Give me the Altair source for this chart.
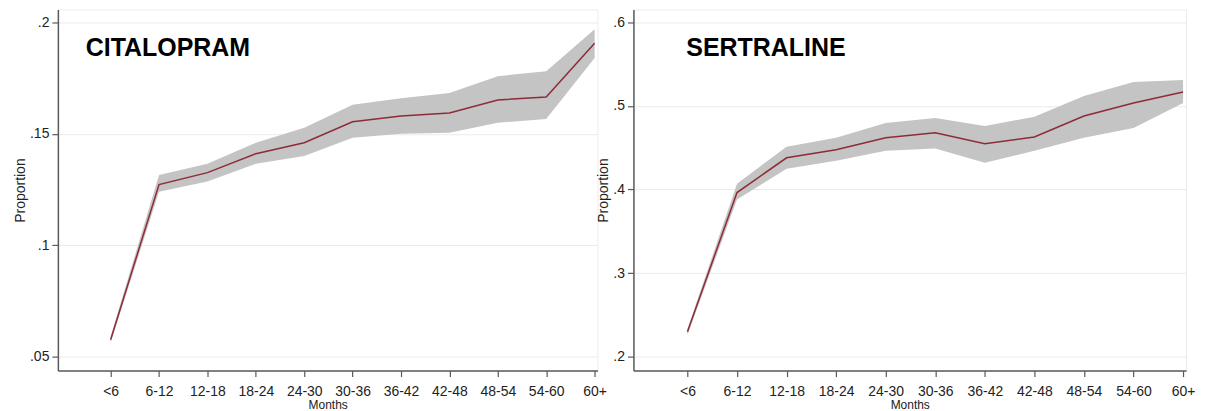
import altair as alt
import pandas as pd

months = ["<6", "6-12", "12-18", "18-24", "24-30", "30-36", "36-42", "42-48", "48-54", "54-60", "60+"]

cit_mean = [0.0576, 0.1272, 0.1326, 0.1411, 0.1460, 0.1554, 0.1580, 0.1594, 0.1652, 0.1665, 0.1906]
cit_lo = [0.0562, 0.1240, 0.1286, 0.1366, 0.1400, 0.1482, 0.1500, 0.1505, 0.1550, 0.1567, 0.1840]
cit_hi = [0.0590, 0.1315, 0.1366, 0.1460, 0.1527, 0.1630, 0.1660, 0.1683, 0.1759, 0.1781, 0.1969]

ser_mean = [0.2298, 0.3964, 0.4380, 0.4476, 0.4619, 0.4680, 0.4548, 0.4630, 0.4880, 0.5036, 0.5167]
ser_lo = [0.2260, 0.3880, 0.4250, 0.4345, 0.4464, 0.4490, 0.4320, 0.4464, 0.4620, 0.4738, 0.5036]
ser_hi = [0.2330, 0.4070, 0.4512, 0.4620, 0.4798, 0.4857, 0.4762, 0.4870, 0.5120, 0.5286, 0.5310]

cit_yticks = [0.05, 0.1, 0.15, 0.2]
ser_yticks = [0.2, 0.3, 0.4, 0.5, 0.6]

FONT = "Liberation Sans"
label_array = "[" + ",".join("'" + m + "'" for m in months) + "]"


def panel(mean, lo, hi, name, ydom, yticks, width, name_x):
    df = pd.DataFrame({"i": list(range(len(months))), "month": months,
                       "mean": mean, "lo": lo, "hi": hi})
    x = alt.X("i:Q",
              scale=alt.Scale(domain=[-1.09, 10.06], nice=False, zero=False),
              axis=alt.Axis(values=list(range(len(months))),
                            labelExpr=label_array + "[datum.value]",
                            title="Months", titleFontSize=12, titlePadding=1,
                            grid=False, labelPadding=8, labelFlush=False,
                            labelOverlap=False))
    yscale = alt.Scale(domain=ydom, nice=False, zero=False)
    yaxis = alt.Axis(values=yticks, labelExpr="substring(toString(datum.value), 1)",
                     title="Proportion", titleFontSize=14, titlePadding=2,
                     grid=True, gridColor="#ebebeb", gridWidth=1, labelPadding=3)
    base = alt.Chart(df)
    band = base.mark_area(color="#c4c4c4", opacity=1).encode(
        x=x, y=alt.Y("lo:Q", scale=yscale, axis=yaxis), y2="hi:Q")
    line = base.mark_line(color="#8e2c36", strokeWidth=1.5).encode(
        x=x, y=alt.Y("mean:Q", scale=yscale, axis=yaxis))
    txt = alt.Chart(pd.DataFrame({"t": [name]})).mark_text(
        font=FONT, fontSize=25, fontWeight="bold", align="left",
        baseline="alphabetic", color="#000000").encode(
        text="t:N", x=alt.value(name_x), y=alt.value(47))
    return alt.layer(band, line, txt).properties(width=width, height=362)


left = panel(cit_mean, cit_lo, cit_hi, "CITALOPRAM", [0.04375, 0.2058], cit_yticks, 541, 28)
right = panel(ser_mean, ser_lo, ser_hi, "SERTRALINE", [0.1833, 0.6155], ser_yticks, 554, 53)

chart = alt.hconcat(left, right, spacing=36, bounds="flush").properties(
    padding={"left": 5, "top": 0, "right": 5, "bottom": 0},
    background="white",
).configure_view(stroke="#ececec", strokeWidth=1).configure_axis(
    domainColor="#5a5a5a", domainWidth=1.5, tickColor="#5a5a5a", tickWidth=1.2,
    tickSize=6, labelColor="#222222", titleColor="#222222",
    labelFont=FONT, titleFont=FONT, labelFontSize=14, titleFontWeight="normal",
)

chart.save("out.html", embed_options={"renderer": "svg", "actions": False})
